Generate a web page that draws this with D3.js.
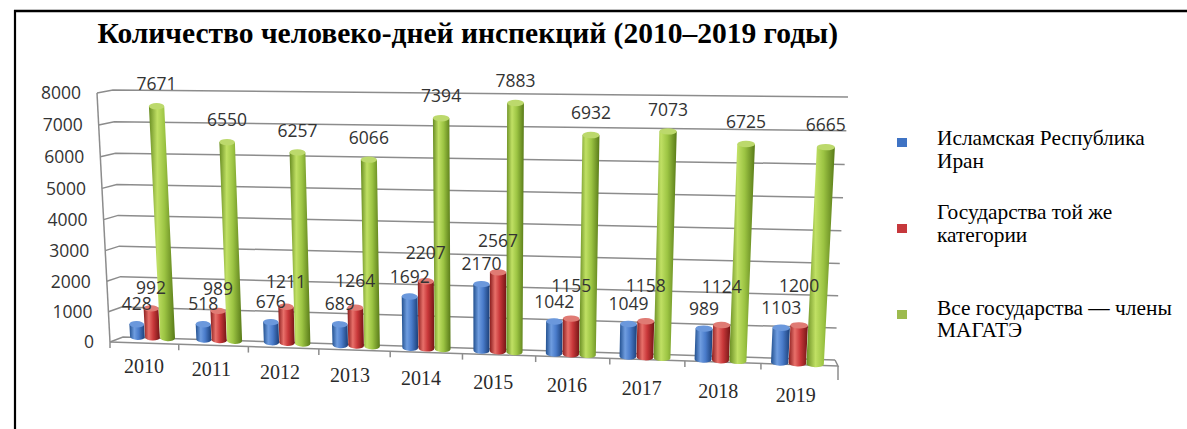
<!DOCTYPE html>
<html><head><meta charset="utf-8">
<script src="https://cdn.jsdelivr.net/npm/d3@7"></script>
<style>body{margin:0;background:#fff} svg{display:block}</style>
</head><body>
<svg id="c" width="1187" height="429"></svg>
<script>
// ---------- DATA ----------
const categories = ["2010","2011","2012","2013","2014","2015","2016","2017","2018","2019"];
const seriesNames = ["Исламская Республика Иран","Государства той же категории","Все государства — члены МАГАТЭ"];
const iran = [428,518,676,689,1692,2170,1042,1049,989,1103];
const sameCategory = [992,989,1211,1264,2207,2567,1155,1158,1124,1200];
const allMembers = [7671,6550,6257,6066,7394,7883,6932,7073,6725,6665];
const yTicks = [0,1000,2000,3000,4000,5000,6000,7000,8000];
const titleText = "Количество человеко-дней инспекций (2010–2019 годы)";
const legendLines = [["Исламская Республика","Иран"],["Государства той же","категории"],["Все государства — члены","МАГАТЭ"]];
const seriesValues = [iran, sameCategory, allMembers];

// ---------- PERSPECTIVE ----------
function homography(src, dst){
  const A=[], b=[];
  for(let k=0;k<4;k++){
    const [u,v]=src[k], [x,y]=dst[k];
    A.push([u,v,1,0,0,0,-u*x,-v*x]); b.push(x);
    A.push([0,0,0,u,v,1,-u*y,-v*y]); b.push(y);
  }
  const n=8;
  for(let i=0;i<n;i++){
    let p=i; for(let r=i+1;r<n;r++) if(Math.abs(A[r][i])>Math.abs(A[p][i])) p=r;
    [A[i],A[p]]=[A[p],A[i]]; [b[i],b[p]]=[b[p],b[i]];
    for(let r=i+1;r<n;r++){ const f=A[r][i]/A[i][i]; for(let c=i;c<n;c++) A[r][c]-=f*A[i][c]; b[r]-=f*b[i]; }
  }
  const h=new Array(n);
  for(let i=n-1;i>=0;i--){ let s=b[i]; for(let c=i+1;c<n;c++) s-=A[i][c]*h[c]; h[i]=s/A[i][i]; }
  return (u,v)=>{ const w=h[6]*u+h[7]*v+1; return [(h[0]*u+h[1]*v+h[2])/w,(h[3]*u+h[4]*v+h[5])/w]; };
}
const corners = [[0,8],[0,0],[10,8],[10,0]];
const Hback  = homography(corners, [[113,90],[123,337],[848,97],[835,360]]);
const Hfront = homography(corners, [[97,93],[110,342],[851,101],[838,366]]);
const Hbar   = homography([[0.727,0],[0.727,8],[9.727,0],[9.727,8]], [[167.5,338],[156,96],[815,364],[828,102]]);

// ---------- SCALES ----------
const x = d3.scaleBand().domain(categories).range([0,10]);
const s = d3.scaleBand().domain([0,1,2]).range([0.16,0.84]).paddingInner(0.02);
const y = d3.scaleLinear().domain([0,8000]).range([0,8]);

const svg = d3.select("#c");
const defs = svg.append("defs");
const grads = [
  ["#22508f","#6f9de0","#4a7ccb","#1b3f78"],
  ["#8a1d1d","#e8706a","#c9383a","#741515"],
  ["#688c22","#c0e064","#9cc443","#587a18"]
];
const tops = ["#6b98dc","#e07b74","#bcd96c"];
grads.forEach((g,k)=>{
  const lg = defs.append("linearGradient").attr("id","g"+k).attr("x1",0).attr("x2",1).attr("y1",0).attr("y2",0);
  [[0,g[0]],[0.32,g[1]],[0.6,g[2]],[1,g[3]]].forEach(([o,c])=>lg.append("stop").attr("offset",o).attr("stop-color",c));
});

const fontSerif = "'Liberation Serif','Times New Roman',serif";
const fontSans = "'Open Sans','Noto Sans',sans-serif";

// frame
svg.append("line").attr("x1",15).attr("x2",15).attr("y1",10).attr("y2",429).attr("stroke","#000").attr("stroke-width",2.2);
svg.append("line").attr("x1",14).attr("x2",1187).attr("y1",11).attr("y2",11).attr("stroke","#000").attr("stroke-width",2.4);

// title
const title = svg.append("text").attr("x",97.5).attr("y",43)
  .attr("font-family",fontSerif).attr("font-weight","bold")
  .attr("font-size",25).attr("fill","#000").text(titleText);
const tl = title.node().getComputedTextLength();
title.attr("font-size", 25*741/tl);

// grid
const grid = svg.append("g").attr("fill","none").attr("stroke","#8c8c8c").attr("stroke-width",1.5);
const line = d3.line();
yTicks.forEach(t=>{
  const V=y(t);
  grid.append("path").attr("d", line([Hfront(0,V), Hback(0,V), Hback(10,V)]));
});
grid.append("path").attr("d", line([Hfront(0,0), Hfront(0,8)]));
grid.append("path").attr("d", line([Hfront(0,0), Hfront(10,0), Hback(10,0)]));
categories.concat(["end"]).forEach((c,i)=>{
  const p = Hfront(i,0);
  grid.append("path").attr("d", line([p,[p[0],p[1]+(i===10?14:6)]]));
});

// y labels
svg.append("g").selectAll("text").data(yTicks).join("text")
  .attr("x",d=>Hfront(0,y(d))[0]-16).attr("y",d=>Hfront(0,y(d))[1]).attr("dy","0.36em")
  .attr("text-anchor","end").attr("font-family",fontSans).attr("font-size",17.5).attr("fill","#333")
  .text(d=>d);

// category labels
svg.append("g").selectAll("text").data(categories).join("text")
  .each(function(c,i){
    const p = Hbar(x(c)+x.bandwidth()/2, y(-1000));
    d3.select(this).attr("x",p[0]-10+1.1*i).attr("y",p[1]).attr("dy","0.35em");
  })
  .attr("text-anchor","middle").attr("font-family",fontSerif)
  .attr("font-size",20).attr("fill","#2a2a2a").text(d=>d);

// bars
const ry = 3.2;
const bars = svg.append("g");
const labels = [];
categories.forEach((c,i)=>{
  seriesValues.forEach((vals,k)=>{
    const v = vals[i];
    const uc = x(c)+s(k)+s.bandwidth()/2, r = s.bandwidth()/2, V = y(v);
    const LB=Hbar(uc-r,0), RB=Hbar(uc+r,0), LT=Hbar(uc-r,V), RT=Hbar(uc+r,V);
    const rxB=Math.hypot(RB[0]-LB[0],RB[1]-LB[1])/2, aB=Math.atan2(RB[1]-LB[1],RB[0]-LB[0])*180/Math.PI;
    const rxT=Math.hypot(RT[0]-LT[0],RT[1]-LT[1])/2, aT=Math.atan2(RT[1]-LT[1],RT[0]-LT[0])*180/Math.PI;
    bars.append("path")
      .attr("d",`M${LT}L${LB}A${rxB},${ry} ${aB} 0 0 ${RB}L${RT}Z`)
      .attr("fill",`url(#g${k})`);
    const cx=(LT[0]+RT[0])/2, cy=(LT[1]+RT[1])/2;
    bars.append("ellipse").attr("cx",cx).attr("cy",cy).attr("rx",rxT).attr("ry",ry)
      .attr("transform",`rotate(${aT},${cx},${cy})`).attr("fill",tops[k]);
    const off = k===0 ? 17 : (k===1 ? 17+2.2*i : 19);
    labels.push({x:cx, y:cy-ry-off, t:v});
  });
});
svg.append("g").selectAll("text").data(labels).join("text")
  .attr("x",d=>d.x).attr("y",d=>d.y).attr("dy","0.36em").attr("text-anchor","middle")
  .attr("font-family",fontSans).attr("font-size",17.5).attr("fill","#333").text(d=>d.t);

// legend
const legColors = ["#3f73c4","#c6383c","#9dbb4e"];
const legSq = [[897,138],[897,224],[897,310]];
const legBase = [[145,168],[219,242],[315,337]];
const leg = svg.append("g");
legendLines.forEach((lines,k)=>{
  leg.append("rect").attr("x",legSq[k][0]).attr("y",legSq[k][1]).attr("width",10).attr("height",9).attr("fill",legColors[k]);
  lines.forEach((ln,j)=>{
    leg.append("text").attr("class","lt").attr("x",937).attr("y",legBase[k][j])
      .attr("font-family",fontSerif).attr("fill","#000").attr("font-size",20).text(ln);
  });
});
const lw = leg.select("text.lt").node().getComputedTextLength();
leg.selectAll("text.lt").attr("font-size",20*208/lw);
</script>
</body></html>
